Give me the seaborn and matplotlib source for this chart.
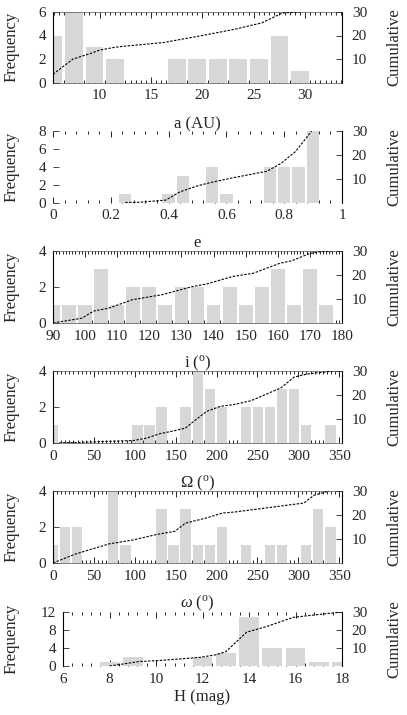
import numpy as np
import pandas as pd
import matplotlib
matplotlib.use("Agg")
import matplotlib.pyplot as plt
import seaborn as sns
from matplotlib.ticker import AutoMinorLocator, FuncFormatter

sns.set_style("white")
plt.rcParams['font.family'] = ['Liberation Serif', 'DejaVu Serif']
plt.rcParams['mathtext.fontset'] = 'custom'
plt.rcParams['mathtext.rm'] = 'Liberation Serif'
plt.rcParams['mathtext.it'] = 'Liberation Serif:italic'

# ---------------- data ----------------
# semi-major axis a (AU)
a_bin = [5.5, 7.5, 9.5, 11.5, 13.5, 15.5, 17.5, 19.5, 21.5, 23.5, 25.5, 27.5, 29.5]
a_count = [4, 6, 3, 2, 0, 0, 2, 2, 2, 2, 2, 4, 1]
a_cx = [5.45, 7.4, 9.0, 10.0, 11.5, 12.3, 16.2, 20.0, 23.2, 25.8, 27.8, 29.5]
a_cy = [3.5, 10.0, 12.2, 13.8, 15.0, 15.4, 17.0, 20.0, 22.7, 25.4, 29.6, 30.0]

# eccentricity e
e_bin = [0.25, 0.40, 0.45, 0.55, 0.60, 0.75, 0.80, 0.85, 0.90]
e_count = [1, 1, 3, 4, 1, 4, 4, 4, 8]
e_cx = [0.25, 0.30, 0.39, 0.44, 0.50, 0.55, 0.62, 0.74, 0.79, 0.84, 0.895]
e_cy = [0, 0.1, 1.0, 4.5, 7.0, 8.5, 10.3, 13.1, 16.5, 21.5, 30.0]

# inclination i (deg)
i_bin = [90, 95, 100, 105, 110, 115, 120, 125, 130, 135, 140, 145, 150, 155, 160, 165, 170, 175]
i_count = [1, 1, 1, 3, 1, 2, 2, 1, 2, 2, 1, 2, 1, 2, 3, 1, 3, 1]
i_cx = [90, 99, 102.7, 107.4, 114.7, 124, 133.5, 137.7, 146, 152.3, 160.7, 164.3, 170, 173.2, 177]
i_cy = [0, 2.0, 5.0, 6.2, 9.7, 11.8, 15.2, 16.2, 19.4, 20.7, 24.9, 25.9, 29.0, 29.7, 30.0]

# longitude of ascending node Omega (deg)
O_bin = [0, 103.25, 118, 132.75, 162.25, 177, 191.75, 206.5, 236, 250.75, 265.5, 280.25, 295, 309.75, 339.25]
O_count = [1, 1, 1, 2, 2, 4, 3, 2, 2, 2, 2, 3, 3, 1, 1]
O_cx = [7, 36, 69, 98, 114, 131, 147, 162, 172, 188, 205, 221, 242, 262, 279, 295, 312, 344]
O_cy = [0, 0.3, 0.7, 1.0, 2.0, 3.9, 5.0, 6.2, 9.0, 13.2, 15.3, 16.0, 17.6, 20.5, 23.0, 27.5, 28.8, 30.0]

# argument of perihelion omega (deg)
w_bin = [0, 14.75, 29.5, 73.75, 88.5, 132.75, 147.5, 162.25, 177, 191.75, 206.5, 236, 265.5, 280.25, 309.75, 324.5, 339.25]
w_count = [1, 2, 2, 4, 1, 3, 1, 3, 1, 1, 2, 1, 1, 1, 1, 3, 2]
w_cx = [0, 28, 69, 98, 127, 149, 162, 188, 207, 221, 262, 307, 319, 338]
w_cy = [0, 3.8, 8.0, 9.6, 11.9, 13.2, 16.6, 18.8, 20.8, 21.2, 23.0, 25.0, 28.2, 30.0]

# absolute magnitude H (mag)
H_bin = [8, 9, 12, 13, 14, 15, 16, 17, 18]
H_count = [1, 2, 2, 3, 11, 4, 4, 1, 1]
H_cx = [8, 9.3, 10.1, 11.1, 11.9, 12.6, 13.0, 13.9, 14.7, 15.9, 16.9, 18]
H_cy = [0, 2.5, 3.0, 4.0, 4.8, 6.3, 7.9, 18.8, 21.7, 27.0, 28.5, 30.0]

xlabels = ['a (AU)', 'e', r'i ($^{\rm o}$)', r'$\Omega$ ($^{\rm o}$)', r'$\omega$ ($^{\rm o}$)', 'H (mag)']

# ---------------- layout ----------------
W, Hpx = 407, 715
fig = plt.figure(figsize=(W / 100, Hpx / 100), dpi=100)
RIGHT = 342

panels = [
    dict(b=a_bin, c=a_count, cx=a_cx, cy=a_cy, xlim=(5.45, 33.6), xt=[10, 15, 20, 25, 30],
         ylim=(0, 6), yt=[0, 2, 4, 6], mn=10, top=12, bot=82.5, left=53, xl=124, solid=True),
    dict(b=e_bin, c=e_count, cx=e_cx, cy=e_cy, xlim=(0, 1), xt=[0, 0.2, 0.4, 0.6, 0.8, 1],
         ylim=(0, 8), yt=[0, 2, 4, 6, 8], mn=5, top=131, bot=202.5, left=53, xl=243, solid=False),
    dict(b=i_bin, c=i_count, cx=i_cx, cy=i_cy, xlim=(90, 180), xt=list(range(90, 181, 10)),
         ylim=(0, 4), yt=[0, 2, 4], mn=10, top=251, bot=323, left=53, xl=363, solid=True),
    dict(b=O_bin, c=O_count, cx=O_cx, cy=O_cy, xlim=(0, 353.5), xt=list(range(0, 351, 50)),
         ylim=(0, 4), yt=[0, 2, 4], mn=10, top=371, bot=443, left=53, xl=483, solid=True),
    dict(b=w_bin, c=w_count, cx=w_cx, cy=w_cy, xlim=(0, 353.5), xt=list(range(0, 351, 50)),
         ylim=(0, 4), yt=[0, 2, 4], mn=10, top=491, bot=563, left=53, xl=603, solid=True),
    dict(b=H_bin, c=H_count, cx=H_cx, cy=H_cy, xlim=(6, 18), xt=[6, 8, 10, 12, 14, 16, 18],
         ylim=(0, 12), yt=[0, 4, 8, 12], mn=5, top=612, bot=666, left=63, xl=697, solid=False),
]

TICK_FS = 11
LAB_FS = 12
BAR = '#d7d7d7'

for p, xlab in zip(panels, xlabels):
    left, top, bot = p['left'], p['top'], p['bot']
    w_px = RIGHT - left
    h_px = bot - top
    ax = fig.add_axes([left / W, 1 - bot / Hpx, w_px / W, h_px / Hpx])
    ax2 = ax.twinx()

    df = pd.DataFrame({'x': p['b'], 'y': p['c']})
    sns.barplot(data=df, x='x', y='y', native_scale=True, orient='x', width=0.86,
                color=BAR, saturation=1, errorbar=None, linewidth=0, ax=ax)
    dfc = pd.DataFrame({'x': p['cx'], 'y': p['cy']})
    sns.lineplot(data=dfc, x='x', y='y', ax=ax2, color='black', linewidth=0.8,
                 linestyle=(0, (2.2, 1.3)))

    ax.set_xlim(*p['xlim'])
    ax.set_ylim(*p['ylim'])
    ax2.set_ylim(0, 30)
    ax.set_xticks(p['xt'])
    ax.xaxis.set_major_formatter(FuncFormatter(lambda v, pos: '%g' % v))
    ax.xaxis.set_minor_locator(AutoMinorLocator(p['mn']))
    ax.set_yticks(p['yt'])
    ax2.set_yticks([10, 20, 30])
    ax.set_axisbelow(True)

    ax.tick_params(axis='x', which='both', direction='in', top=True, bottom=True,
                   labelsize=TICK_FS, pad=5, color='black')
    ax.tick_params(axis='x', which='major', length=4, width=0.6)
    ax.tick_params(axis='x', which='minor', length=2, width=0.6)
    ax.tick_params(axis='y', which='major', direction='in', left=True, right=False,
                   length=4, width=0.6, labelsize=TICK_FS, pad=5)
    ax2.tick_params(axis='y', which='major', direction='in', right=True, left=False,
                    length=4, width=0.6, labelsize=TICK_FS, pad=7)

    for s in ('left', 'right'):
        ax.spines[s].set_visible(True)
        ax.spines[s].set_color('black')
        ax.spines[s].set_linewidth(0.8)
    if not p['solid']:
        ax.spines['left'].set_visible(p['left'] != 53)
    for s in ('top', 'bottom'):
        ax.spines[s].set_visible(p['solid'])
        ax.spines[s].set_color('#555555')
        ax.spines[s].set_linewidth(0.5)
    for s in ax2.spines.values():
        s.set_visible(False)

    ax.set_xlabel(xlab, fontsize=LAB_FS)
    ax.xaxis.set_label_coords(0.5, (bot - p['xl']) / h_px)
    ax.xaxis.label.set_verticalalignment('center')

    ax.set_ylabel('Frequency', fontsize=LAB_FS)
    ax.yaxis.set_label_coords((12 - left) / w_px, 0.5)
    ax.yaxis.label.set_verticalalignment('center')

    ax2.set_ylabel('Cumulative', fontsize=LAB_FS)
    ax2.yaxis.set_label_coords((394 - left) / w_px, 0.5)
    ax2.yaxis.label.set_verticalalignment('center')

fig.savefig('out.png', dpi=100)
